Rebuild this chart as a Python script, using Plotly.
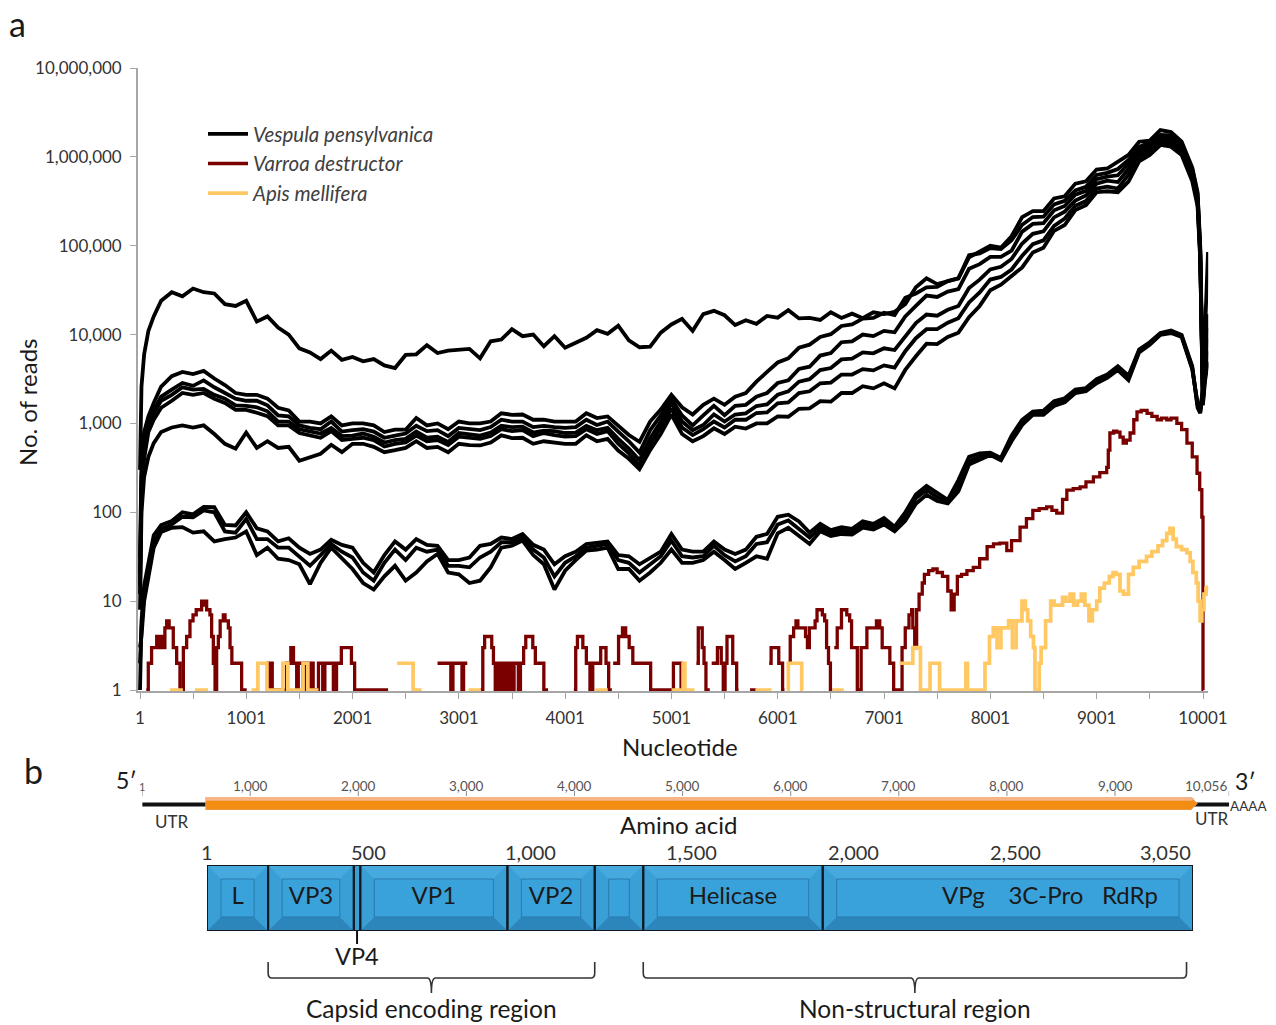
import plotly.graph_objects as go

W, H = 1276, 1025
FONT = "Lato, 'Open Sans', sans-serif"


def fx(px):
    """horizontal pixel -> paper fraction"""
    return px / W


def fy(py):
    """vertical pixel (from top) -> paper fraction"""
    return 1 - py / H


# ---------------------------------------------------------------------------
# Panel a: read depth along the genome (log scale)
# ---------------------------------------------------------------------------
POS = [1, 15, 40, 80, 130, 200] + list(range(300, 10000, 100)) + [9950, 9975, 10000, 10020, 10048]

# Vespula pensylvanica libraries (one list per library)
VP_A = [300, 2600, 6000, 11000, 16000, 24000,
        30000, 27000, 33000, 30000, 29000, 22000, 21000, 24000, 14000, 16000,
        12000, 10000, 7000, 6300, 5300, 6600, 5200, 5600, 5000, 5300,
        4500, 4200, 5900, 6000, 7600, 6200, 6600, 6800, 6900, 5400,
        8400, 8800, 11500, 9600, 10000, 7400, 9600, 7100, 8000, 9200,
        11200, 10200, 12600, 8600, 7200, 7300, 10500, 13000, 15000, 11000,
        17000, 18500, 16500, 12800, 14500, 13200, 16200, 15500, 18800, 15200,
        15400, 14600, 17800, 15400, 17200, 15300, 17800, 17000, 18000, 22000,
        34000, 43000, 37000, 40000, 43000, 74000, 86000, 100000, 95000, 128000,
        210000, 245000, 245000, 340000, 360000, 500000, 530000, 720000, 740000, 880000,
        1050000, 1480000, 1520000, 2000000, 1900000, 1480000, 760000,
        400000, 100000, 2500, 12000, 85000]

VP_B1 = [30, 390, 800, 1200, 1700, 2600,
         3400, 3800, 3600, 3900, 3200, 2700, 2200, 2100, 2100, 1900,
         1500, 1400, 1050, 1050, 1000, 1200, 950, 1000, 1000, 950,
         800, 850, 850, 1150, 950, 1000, 860, 1050, 1000, 1000,
         1050, 1300, 1250, 1260, 1100, 1100, 1050, 1050, 1050, 1300,
         1150, 1200, 950, 740, 620, 1050, 1430, 2100, 1520, 1260,
         1620, 1900, 1620, 2000, 2200, 2950, 3800, 4850, 5400, 7100,
         7700, 9400, 10100, 12500, 13000, 15100, 15400, 17600, 16600, 26000,
         29000, 34000, 34500, 40000, 43000, 78000, 82000, 94000, 92000, 115000,
         172000, 210000, 212000, 292000, 320000, 420000, 460000, 625000, 660000, 730000,
         920000, 1300000, 1450000, 1760000, 1740000, 1350000, 730000,
         380000, 90000, 2000, 6000, 17000]

VP_B2 = [20, 250, 600, 1000, 1400, 2000,
         2400, 2850, 2650, 3050, 2550, 2200, 1900, 1800, 1800, 1600,
         1230, 1200, 950, 890, 860, 1050, 810, 840, 860, 810,
         690, 730, 770, 940, 820, 840, 720, 890, 860, 840,
         910, 1100, 1050, 1050, 910, 940, 910, 890, 910, 1100,
         960, 1050, 810, 630, 470, 840, 1230, 1880, 1230, 950,
         1230, 1580, 1240, 1580, 1620, 2000, 2200, 2850, 3050, 4100,
         4350, 5800, 6200, 8200, 8400, 10000, 9600, 11000, 10600, 16000,
         21000, 27500, 26500, 30500, 32500, 55000, 62000, 75000, 75000, 88000,
         144000, 176000, 179000, 250000, 280000, 375000, 415000, 560000, 600000, 620000,
         830000, 1180000, 1370000, 1640000, 1660000, 1290000, 690000,
         350000, 85000, 1900, 5000, 12000]

VP_B3 = [15, 200, 500, 900, 1300, 1800,
         2100, 2550, 2400, 2450, 2100, 1900, 1600, 1580, 1520, 1370,
         1050, 1050, 860, 820, 770, 890, 720, 730, 770, 710,
         610, 650, 670, 810, 690, 710, 620, 780, 750, 730,
         790, 940, 910, 920, 790, 830, 820, 780, 790, 940,
         840, 890, 670, 520, 385, 680, 1050, 1680, 1050, 840,
         960, 1260, 1050, 1260, 1300, 1570, 1640, 2100, 2300, 2950,
         3150, 3980, 4200, 5250, 5350, 6300, 6150, 7000, 6700, 9500,
         13500, 16800, 16300, 19000, 21000, 33500, 41500, 54000, 58000, 71000,
         106000, 136000, 145000, 208000, 242000, 322000, 368000, 500000, 540000, 520000,
         730000, 1080000, 1270000, 1540000, 1520000, 1190000, 640000,
         320000, 80000, 1800, 4000, 9000]

VP_B4 = [12, 160, 400, 800, 1100, 1500,
         1800, 2200, 2100, 2200, 1900, 1700, 1420, 1420, 1320, 1210,
         950, 950, 780, 740, 690, 820, 650, 670, 690, 650,
         550, 590, 610, 730, 630, 650, 570, 710, 690, 670,
         720, 860, 820, 840, 720, 780, 740, 710, 720, 860,
         760, 820, 590, 460, 335, 580, 900, 1470, 900, 740,
         860, 1050, 900, 1100, 1100, 1310, 1330, 1680, 1720, 2200,
         2300, 2830, 2880, 3550, 3550, 4080, 3950, 4500, 4250, 6500,
         9100, 11500, 11500, 13600, 15300, 23000, 29800, 41600, 44500, 54000,
         77000, 104000, 115000, 167000, 202000, 282000, 318000, 440000, 462000, 440000,
         630000, 990000, 1160000, 1450000, 1410000, 1090000, 590000,
         300000, 75000, 1700, 3500, 6500]

VP_B5 = [8, 100, 250, 420, 600, 800,
         900, 950, 900, 950, 760, 590, 520, 790, 530, 630,
         530, 545, 380, 420, 455, 575, 475, 590, 590, 545,
         475, 500, 530, 630, 530, 545, 475, 590, 570, 565,
         610, 735, 685, 690, 590, 630, 610, 590, 590, 735,
         630, 670, 495, 400, 305, 500, 760, 1260, 760, 630,
         720, 880, 760, 920, 875, 1000, 1000, 1200, 1190, 1460,
         1480, 1780, 1760, 2200, 2200, 2620, 2480, 2830, 2480, 4000,
         5700, 7900, 7800, 9400, 10500, 15700, 21000, 31500, 36500, 46000,
         57000, 84000, 95000, 147000, 171000, 252000, 285000, 400000, 410000, 400000,
         525000, 890000, 1050000, 1360000, 1300000, 1050000, 530000,
         280000, 70000, 1600, 3000, 5000]

VP_C1 = [1, 6, 15, 28, 55, 72,
         80, 100, 95, 115, 114, 72, 71, 100, 66, 61,
         47, 51, 40, 34, 38, 49, 43, 40, 27, 21,
         33, 47, 38, 50, 43, 42, 29, 29, 31, 42,
         44, 52, 50, 57, 43, 38, 26, 32, 36, 44,
         46, 47, 33, 32, 26, 31, 36, 57, 38, 36,
         36, 47, 38, 34, 38, 53, 57, 89, 94, 79,
         59, 74, 63, 68, 65, 79, 74, 86, 69, 100,
         158, 198, 163, 138, 230, 420, 460, 470, 410, 730,
         1100, 1360, 1390, 1780, 1920, 2400, 2500, 3150, 3550, 4400,
         3450, 6800, 8200, 10400, 11100, 9900, 4400,
         1500, 1300, 2200, 3500, 4500]

VP_C2 = [2, 5, 12, 22, 45, 65,
         73, 89, 88, 105, 100, 61, 59, 84, 50, 50,
         40, 40, 32, 25, 33, 44, 36, 31, 21, 17,
         27, 38, 29, 40, 36, 38, 25, 25, 24, 31,
         36, 46, 46, 52, 38, 31, 19, 27, 32, 40,
         42, 44, 29, 27, 21, 26, 32, 48, 32, 31,
         32, 42, 33, 28, 32, 44, 46, 73, 81, 65,
         52, 67, 58, 62, 60, 73, 69, 80, 65, 90,
         144, 178, 148, 131, 200, 378, 420, 450, 390, 670,
         1030, 1310, 1320, 1680, 1820, 2300, 2400, 2990, 3360, 4200,
         3260, 6500, 7900, 10100, 10600, 9600, 4200,
         1600, 1350, 2400, 3700, 4800]

VP_C3 = [3, 4, 10, 18, 40, 60,
         67, 68, 59, 61, 47, 50, 52, 61, 33, 40,
         30, 29, 26, 15.5, 27, 40, 30, 23, 16, 13.5,
         19, 25, 17, 21, 28, 34, 21, 20, 16, 17,
         24, 40, 42, 48, 33, 26, 13.5, 22, 29, 37,
         38, 40, 23, 23, 17, 21, 27, 38, 27, 27,
         29, 36, 29, 23, 27, 32, 30, 58, 67, 55,
         44, 61, 54, 57, 56, 67, 64, 73, 61, 80,
         125, 157, 134, 126, 172, 345, 385, 440, 385, 630,
         960, 1250, 1250, 1570, 1730, 2200, 2300, 2830, 3260, 3990,
         3070, 6300, 7700, 9900, 10400, 9400, 4050,
         1700, 1400, 2500, 3800, 5000]

VESPULA = [VP_A, VP_B1, VP_B2, VP_B3, VP_B4, VP_B5, VP_C1, VP_C2, VP_C3]

# Varroa destructor: coverage change points (None = no reads)
VD_POS = [60, 79, 110, 158, 185, 195, 210, 235, 252, 275, 314, 346, 377, 409, 440, 471, 500, 530,
          581, 600, 612, 628, 659, 675, 691, 707, 722, 738, 755, 785, 801, 832, 848, 865, 957, 1005,
          1190, 1215, 1225, 1245, 1380, 1420, 1445, 1475, 1490, 1535, 1545, 1570, 1600, 1630, 1680,
          1720, 1740, 1820, 1850, 1895, 1990, 2020, 2335,
          2800, 2925, 2945, 3030, 3045, 3080,
          3200, 3226, 3243, 3310, 3326, 3343, 3360, 3380, 3400, 3420, 3440, 3460, 3480, 3500, 3520,
          3560, 3580, 3610, 3630, 3696, 3720, 3800, 3840,
          4083, 4100, 4116, 4167, 4200, 4234, 4260, 4335, 4385, 4410, 4440,
          4452, 4503, 4540, 4570, 4603, 4637, 4805, 5019, 5091, 5127,
          5235, 5253, 5290, 5307, 5325, 5361,
          5379, 5433, 5469, 5488, 5505, 5523, 5577, 5614, 5632,
          5740, 5800,
          5920, 5938, 6010, 6046, 6064,
          6100, 6118, 6150, 6172, 6190, 6262, 6280, 6298, 6352, 6370, 6420, 6442, 6460, 6478, 6496, 6514,
          6532, 6560, 6600, 6650, 6677, 6695, 6749, 6785, 6839, 6929, 6960, 6983, 7055, 7091, 7170,
          7200, 7235, 7260, 7271, 7289, 7307, 7330, 7360, 7380, 7420, 7460, 7500, 7550, 7600, 7632,
          7660, 7690, 7730, 7780, 7840, 7900, 7970, 8030, 8090, 8155, 8200, 8280, 8340, 8400, 8460,
          8530, 8580, 8625, 8680, 8720, 8780, 8845, 8900, 8970, 9030, 9095, 9110, 9125, 9160, 9190,
          9220, 9250, 9280, 9315, 9350, 9380, 9420, 9475, 9520, 9570, 9610, 9660, 9700, 9755, 9800,
          9850, 9900, 9945, 9970, 9990, 10001, 10004]
VD_COV = [1, 2, 3, 4, 3, 4, 3, 5, 6, 5, 3, 2, 1, 3, 4, 6, 7, 8,
          10, 9, 10, 8, 7, 4, 2, 1, 3, 4, 6, 7, 6, 5, 3, 2, 1, None,
          2, 1, 2, 1, 2, 3, 2, 1, 2, 1, 2, 1, 2, 1, 2,
          1, 2, 1, 2, 3, 2, 1, None,
          2, 1, 2, 1, 2, None,
          1, 3, 4, 3, 2, 1, 2, 1, 2, 1, 2, 1, 2, 1, 2,
          1, 2, 3, 4, 3, 2, 1, None,
          1, 3, 4, 3, 2, 1, 2, 3, 2, 1, None,
          2, 4, 5, 4, 3, 2, 1, 2, 1, None,
          2, 5, 3, 2, 1, None,
          2, 3, 2, 1, 2, 4, 2, 1, None,
          1, None,
          2, 3, 2, 1, None,
          2, 4, 5, 6, 5, 4, 3, 5, 6, 8, 7, 6, 3, 2, 1, None,
          3, 5, 8, 7, 6, 3, 1, 3, 5, 6, 5, 3, 2, 1, 3,
          5, 7, 8, 5, 3, 8, 12, 16, 20, 22, 23, 21, 19, 13, 8,
          12, 19, 20, 22, 24, 30, 41, 44, 45, 37, 48, 68, 85, 105, 110,
          115, 105, 98, 140, 178, 185, 193, 220, 250, 280, 320, 500, 780, 820, 800,
          700, 600, 650, 780, 1100, 1350, 1400, 1300, 1200, 1100, 1150, 1100, 1150, 1000, 850,
          600, 420, 275, 180, 88, 1, None]

# Apis mellifera: coverage change points (None = no reads)
AM_POS = [283, 405, 518, 640, 1050, 1110, 1195, 1345, 1392, 1535, 1580, 1680, 2420, 2570, 2650,
          3091, 3209, 4284, 4402, 5001, 5110, 5127, 5217, 5790, 5940, 6090, 6100, 6226, 6240,
          6514, 6622, 7145, 7271, 7343, 7433, 7523, 7770, 7785, 7950, 7992, 8028, 8064, 8100,
          8172, 8208, 8244, 8298, 8330, 8352, 8380, 8406, 8420, 8460, 8478, 8520, 8568, 8600,
          8680, 8712, 8750, 8784, 8820, 8856, 8890, 8928, 8960, 9001, 9030, 9073, 9120, 9155,
          9181, 9220, 9253, 9300, 9345, 9400, 9470, 9520, 9578, 9620, 9660, 9690, 9720, 9750,
          9800, 9850, 9880, 9906, 9938, 9955, 9974, 9990, 10010, 10030, 10046]
AM_COV = [1, None, 1, None, 1, 2, 1, 2, 1, 2, 1, None, 2, 1, None,
          1, None, 1, None, 1, 2, 1, None, 1, None, 1, 2, 1, None,
          1, None, 2, 3, 1, 2, 1, 2, 1, 2, 4, 5, 3, 5,
          6, 3, 6, 10, 8, 6, 4, 3, 1, 2, 3, 6, 10, 9,
          11, 10, 12, 9, 10, 12, 9, 6, 8, 10, 14, 16, 19, 21,
          20, 13, 12, 20, 24, 28, 32, 36, 42, 48, 58, 66, 50, 41,
          38, 35, 28, 21, 16, 10, 6, 8, 12, 14, 15]

X_TICKS = list(range(1, 10002, 500))
Y_TICKS = [1, 10, 100, 1000, 10000, 100000, 1000000, 10000000]

# ---------------------------------------------------------------------------
# Panel b: genome organisation
# ---------------------------------------------------------------------------
GENOME_LEN = 10056
ORF_START, ORF_BODY_END, ORF_END = 590, 9700, 9760
NT_RULER = [1, 1000, 2000, 3000, 4000, 5000, 6000, 7000, 8000, 9000, 10056]

AA_LEN = 3050
DOMAIN_EDGES = [1, 190, 455, 475, 930, 1200, 1350, 1905, 3050]
DOMAIN_NAMES = ["L", "VP3", "VP4", "VP1", "VP2", "", "Helicase", ""]
NS_LABELS = ["VPg", "3C-Pro", "RdRp"]
NS_LABEL_POS = [2340, 2595, 2855]
AA_TICKS = [1, 500, 1000, 1500, 2000, 2500, 3050]
REGIONS = [("Capsid encoding region", 190, 1200), ("Non-structural region", 1350, 3030)]


def step_series(pos, cov):
    xs, ys = [], []
    for i, (p, c) in enumerate(zip(pos, cov)):
        if c is None and i > 0 and cov[i - 1] is not None:
            xs.append(p)
            ys.append(cov[i - 1])
        xs.append(p)
        ys.append(c)
    return xs, ys


fig = go.Figure()

for i, series in enumerate(VESPULA):
    fig.add_trace(go.Scatter(
        x=POS, y=series, mode="lines",
        line=dict(color="#000000", width=3.8),
        name="<i>Vespula pensylvanica</i>", legendgroup="vp",
        showlegend=(i == 0), hoverinfo="skip"))

vx, vy = step_series(VD_POS, VD_COV)
fig.add_trace(go.Scatter(
    x=vx, y=vy, mode="lines", connectgaps=False,
    line=dict(color="#7a0000", width=3.3, shape="hv"),
    name="<i>Varroa destructor</i>", hoverinfo="skip"))

ax_, ay_ = step_series(AM_POS, AM_COV)
fig.add_trace(go.Scatter(
    x=ax_, y=ay_, mode="lines", connectgaps=False,
    line=dict(color="#ffc862", width=3.7, shape="hv"),
    name="<i>Apis mellifera</i>", hoverinfo="skip"))

# ---- axis geometry for panel a
NT_SCALE = 1063 / 10000          # px per nucleotide
X_RANGE = [-19, 10050]
x_left = 140 + (X_RANGE[0] - 1) * NT_SCALE
x_right = 140 + (X_RANGE[1] - 1) * NT_SCALE
DEC_PX = 622 / 7
Y_RANGE = [-0.015, 7]
y_bottom = 690 - Y_RANGE[0] * DEC_PX
y_top = 68

axis_grey = "#a6a6a6"
hidden = dict(visible=False, automargin=False, showgrid=False, zeroline=False, fixedrange=True)

fig.update_layout(
    xaxis=dict(domain=[fx(x_left), fx(x_right)], range=X_RANGE, showgrid=False, zeroline=False,
               showline=True, linecolor=axis_grey, linewidth=1.5, automargin=False,
               ticks="outside", ticklen=6, tickcolor=axis_grey, tickwidth=1.3,
               tickvals=X_TICKS,
               ticktext=[str(v) if (v - 1) % 1000 == 0 else "" for v in X_TICKS],
               tickfont=dict(family=FONT, size=17, color="#333333"),
               ticklabelstandoff=5, anchor="y"),
    yaxis=dict(domain=[fy(y_bottom), fy(y_top)], type="log", range=Y_RANGE,
               showgrid=False, zeroline=False, showline=True, linecolor=axis_grey,
               linewidth=1.5, ticks="outside", ticklen=6, tickcolor=axis_grey, tickwidth=1.3,
               tickvals=Y_TICKS, ticktext=[f"{v:,}" for v in Y_TICKS], automargin=False,
               tickfont=dict(family=FONT, size=17, color="#333333"),
               ticklabelstandoff=5, anchor="x"),
    xaxis2=dict(domain=[fx(142.2), fx(1229.2)], range=[1, GENOME_LEN], anchor="y2", **hidden),
    yaxis2=dict(domain=[fy(810), fy(797)], range=[0, 1], anchor="x2", **hidden),
    xaxis3=dict(domain=[fx(207), fx(1193)], range=[1, AA_LEN], anchor="y3", **hidden),
    yaxis3=dict(domain=[fy(931), fy(865)], range=[0, 1], anchor="x3", **hidden),
)

# ---- panel b shapes
shapes = []
ann = []


def note(x, y, s, size, xref="paper", yref="paper", color="#1a1a1a", xanchor="center", **kw):
    d = dict(x=x, y=y, xref=xref, yref=yref, showarrow=False, text=s,
             xanchor=xanchor, yanchor="middle",
             font=dict(family=FONT, size=size, color=color))
    d.update(kw)
    ann.append(d)


# genome line, ORF arrow
shapes.append(dict(type="line", xref="x2", yref="y2", x0=1, x1=ORF_START, y0=0.42, y1=0.42,
                   line=dict(color="#111111", width=4)))
shapes.append(dict(type="line", xref="x2", yref="y2", x0=ORF_BODY_END, x1=GENOME_LEN, y0=0.42, y1=0.42,
                   line=dict(color="#111111", width=4)))
shapes.append(dict(type="path", xref="x2", yref="y2",
                   path=f"M {ORF_START},0 L {ORF_BODY_END},0 L {ORF_END},0.5 L {ORF_BODY_END},1 L {ORF_START},1 Z",
                   fillcolor="#f28c12", line=dict(color="#e9a06a", width=1)))
shapes.append(dict(type="path", xref="x2", yref="y2",
                   path=f"M {ORF_START},0.72 L {ORF_BODY_END + 8},0.72 L {ORF_END - 22},0.86 "
                        f"L {ORF_BODY_END},1 L {ORF_START},1 Z",
                   fillcolor="#f6b487", line=dict(width=0)))

# nucleotide ruler
for v in NT_RULER:
    shapes.append(dict(type="line", xref="x2", yref="paper", x0=v, x1=v, y0=fy(791), y1=fy(796),
                       line=dict(color="#8c8c8c", width=1)))
    note(v, fy(786), "1" if v == 1 else f"{v:,}", 11 if v == 1 else 13.5, xref="x2",
         color="#555555", xanchor="right" if v == GENOME_LEN else "center")

# polyprotein domains
AA_PX = (1193 - 207) / (AA_LEN - 1)
BEVEL = 14
BLOCK_H = 66
for a0, a1 in zip(DOMAIN_EDGES[:-1], DOMAIN_EDGES[1:]):
    shapes.append(dict(type="rect", xref="x3", yref="y3", x0=a0, x1=a1, y0=0, y1=1,
                       fillcolor="#3a9fd5", line=dict(width=0), layer="below"))
    if (a1 - a0) * AA_PX > 30:
        dx = BEVEL / AA_PX
        dy = BEVEL / BLOCK_H
        shapes.append(dict(type="path", xref="x3", yref="y3", layer="below",
                           path=f"M {a0},1 L {a1},1 L {a1 - dx},{1 - dy} L {a0 + dx},{1 - dy} Z",
                           fillcolor="#46aadf", line=dict(width=0)))
        shapes.append(dict(type="path", xref="x3", yref="y3", layer="below",
                           path=f"M {a0},0 L {a1},0 L {a1 - dx},{dy} L {a0 + dx},{dy} Z",
                           fillcolor="#2c86bb", line=dict(width=0)))
        shapes.append(dict(type="rect", xref="x3", yref="y3", layer="below",
                           x0=a0 + dx, x1=a1 - dx, y0=dy, y1=1 - dy,
                           fillcolor="#3aa2da", line=dict(color="#2a7aab", width=1)))
for a0, a1 in zip(DOMAIN_EDGES[:-1], DOMAIN_EDGES[1:]):
    shapes.append(dict(type="rect", xref="x3", yref="y3", x0=a0, x1=a1, y0=0, y1=1,
                       fillcolor="rgba(0,0,0,0)", line=dict(color="#121a20", width=2), layer="below"))

label_x, label_t = [], []
for a0, a1, name in zip(DOMAIN_EDGES[:-1], DOMAIN_EDGES[1:], DOMAIN_NAMES):
    if name and name != "VP4":
        label_x.append((a0 + a1) / 2)
        label_t.append(name)
label_x += NS_LABEL_POS
label_t += NS_LABELS
fig.add_trace(go.Scatter(x=label_x, y=[0.5] * len(label_x), mode="text", text=label_t,
                         textfont=dict(family=FONT, size=24, color="#1a1a1a"),
                         xaxis="x3", yaxis="y3", showlegend=False, hoverinfo="skip",
                         cliponaxis=False))
fig.add_trace(go.Scatter(x=[], y=[], xaxis="x2", yaxis="y2", showlegend=False, hoverinfo="skip"))

# VP4 leader
vp4 = DOMAIN_NAMES.index("VP4")
vp4_x = (DOMAIN_EDGES[vp4] + DOMAIN_EDGES[vp4 + 1]) / 2
shapes.append(dict(type="line", xref="x3", yref="paper", x0=vp4_x, x1=vp4_x, y0=fy(931), y1=fy(944),
                   line=dict(color="#111111", width=2)))
note(vp4_x, fy(956), "VP4", 23.5, xref="x3")

# amino-acid ruler labels
for v in AA_TICKS:
    note(v, fy(852), f"{v:,}", 20, xref="x3", color="#333333",
         xanchor="right" if v == AA_LEN else "center")

# region braces
r = 12  # corner size in amino acids
for name, a0, a1 in REGIONS:
    am = (a0 + a1) / 2
    yt, yh, yb, yc = fy(962), fy(978), fy(993), fy(973)
    path = (f"M {a0},{yt} L {a0},{yc} Q {a0},{yh} {a0 + r},{yh} L {am - r},{yh} "
            f"Q {am},{yh} {am},{yb} Q {am},{yh} {am + r},{yh} L {a1 - r},{yh} "
            f"Q {a1},{yh} {a1},{yc} L {a1},{yt}")
    shapes.append(dict(type="path", xref="x3", yref="paper", path=path,
                       line=dict(color="#333333", width=1.6)))
    note(am, fy(1008), name, 24.5, xref="x3")

# free text
note(fx(17), fy(1), "a", 34, yanchor="top")
note(fx(33), fy(770), "b", 34)
note(fx(27), fy(402), "No. of reads", 24, textangle=-90)
note(fx(680), fy(746), "Nucleotide", 24)
note(fx(126), fy(780), "5′", 23)
note(fx(1245), fy(781), "3′", 23)
note(fx(172), fy(821), "UTR", 17, color="#333333")
note(fx(1212), fy(818), "UTR", 17, color="#333333")
note(fx(1248), fy(806), "AAAA", 13.5, color="#333333")
note(fx(678), fy(824), "Amino acid", 24)

fig.update_layout(
    width=W, height=H, margin=dict(l=0, r=0, t=0, b=0, autoexpand=False),
    paper_bgcolor="white", plot_bgcolor="white",
    shapes=shapes, annotations=ann, hovermode=False,
    showlegend=True,
    legend=dict(x=fx(203), y=fy(114), xanchor="left", yanchor="top",
                bgcolor="rgba(0,0,0,0)", itemwidth=40,
                font=dict(family=FONT, size=20.5, color="#404040"),
                tracegroupgap=0),
)

fig.write_html("out.html")
